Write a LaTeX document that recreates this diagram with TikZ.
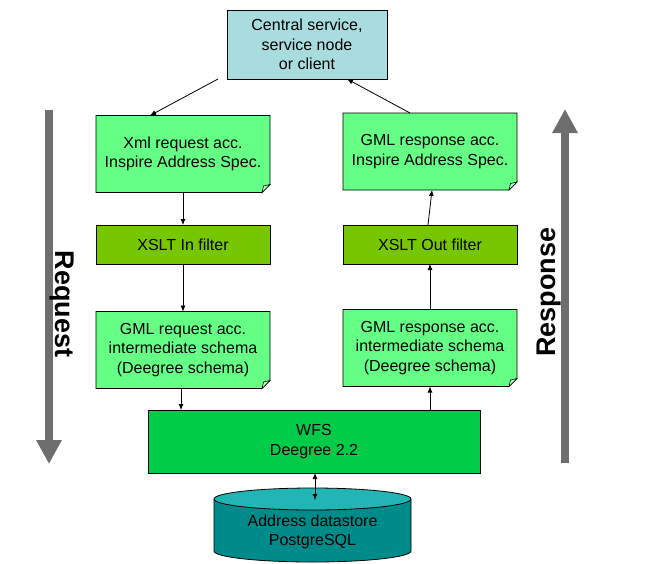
\documentclass[tikz,border=0pt]{standalone}
\usepackage{fontspec}
\setmainfont{Liberation Sans}
\usetikzlibrary{arrows.meta}
\pgfdeclarelayer{background}
\pgfsetlayers{background,main}
\definecolor{centralblue}{HTML}{A9DCDF}
\definecolor{docgreen}{HTML}{66FF85}
\definecolor{foldgreen}{HTML}{B8FFC8}
\definecolor{xsltgreen}{HTML}{77C700}
\definecolor{wfsgreen}{HTML}{00CC4A}
\definecolor{dbbody}{HTML}{008B8B}
\definecolor{dbtop}{HTML}{22B5B5}
\definecolor{arrowgray}{HTML}{6E6E6E}
\begin{document}
\begin{tikzpicture}[x=1pt,y=-1pt,
		box/.style={draw, line width=0.8pt, inner sep=0pt, outer sep=0pt, align=center, font=\fontsize{16}{19.5}\selectfont},
		note/.style={box, draw=none, minimum width=174pt, minimum height=77pt},
		filterbox/.style={box, fill=xsltgreen, minimum width=174pt, minimum height=39pt},
		flow/.style={line width=0.8pt, -{Latex[length=6pt,width=5pt]}},
		bigarrow/.style={draw=arrowgray, line width=8pt, -{Triangle[length=24pt,width=24pt]}},
		bigtext/.style={font=\fontsize{27}{30}\selectfont\bfseries}]
	\useasboundingbox (0,0) rectangle (671,563);
	\node [box, fill=centralblue, minimum width=160pt, minimum height=69pt] (central) at (307,44.5) {Central service,\\service node\\or client};
	\node [note] (xmlreq) at (183,154) {Xml request acc.\\Inspire Address Spec.};
	\node [note] (gmlout) at (430,151.5) {GML response acc.\\Inspire Address Spec.};
	\node [filterbox] (xsltin) at (183,244.5) {XSLT In filter};
	\node [filterbox] (xsltout) at (430,244.5) {XSLT Out filter};
	\node [note] (gmlreq) at (183,350) {GML request acc.\\intermediate schema\\(Deegree schema)};
	\node [note] (gmlresp) at (430,348) {GML response acc.\\intermediate schema\\(Deegree schema)};
	\node [box, fill=wfsgreen, minimum width=332pt, minimum height=63pt] (wfs) at (314,441.5) {WFS\\Deegree 2.2};
	\filldraw [line width=0.8pt, fill=dbbody] (214,499) -- (214,551) arc [start angle=180, end angle=0, x radius=98.5, y radius=11] -- (411,499);
	\filldraw [line width=0.8pt, fill=dbtop] (312.5,499) ellipse [x radius=98.5, y radius=11];
	\coordinate (dbtop) at (315,500);
	\node [box, draw=none] (db) at (312.5,532) {Address datastore\\PostgreSQL};
	\begin{pgfonlayer}{background}
		\foreach \n in {xmlreq,gmlout,gmlreq,gmlresp}
			\draw [line width=0.8pt, fill=docgreen] (\n.north west) -- (\n.north east) -- ([yshift=8pt]\n.south east) -- ([xshift=-8pt]\n.south east) -- (\n.south west) -- cycle;
	\end{pgfonlayer}
	\foreach \n in {xmlreq,gmlout,gmlreq,gmlresp}
		\draw [line width=0.6pt, fill=foldgreen] ([xshift=-8pt]\n.south east) -- ([xshift=-6.5pt,yshift=6.5pt]\n.south east) -- ([yshift=8pt]\n.south east) -- cycle;
	\draw [flow] ([xshift=-9pt]central.south west) -- ([xshift=-33pt]xmlreq.north);
	\draw [flow] ([xshift=-20pt]gmlout.north) -- ([xshift=40pt]central.south);
	\draw [flow] (xmlreq.south) -- (xsltin.north);
	\draw [flow] (xsltin.south) -- (gmlreq.north);
	\draw [flow] ([xshift=-2pt]gmlreq.south) -- ([xshift=-2pt]gmlreq.south |- wfs.north);
	\draw [flow] (gmlresp.south |- wfs.north) -- (gmlresp.south);
	\draw [flow] (gmlresp.north) -- (xsltout.south);
	\draw [flow] ([xshift=-2pt]xsltout.north) -- ([xshift=2pt]gmlout.south);
	\draw [flow, {Latex[length=6pt,width=5pt]}-{Latex[length=6pt,width=5pt]}] ([xshift=1pt]wfs.south) -- (dbtop);
	\draw [bigarrow] (49,110) -- (49,464);
	\draw [bigarrow] (565,463) -- (565,109);
	\node [bigtext, rotate=-90] (request) at (62,304) {Request};
	\node [bigtext, rotate=90] (response) at (549.5,292) {Response};
\end{tikzpicture}
\end{document}
